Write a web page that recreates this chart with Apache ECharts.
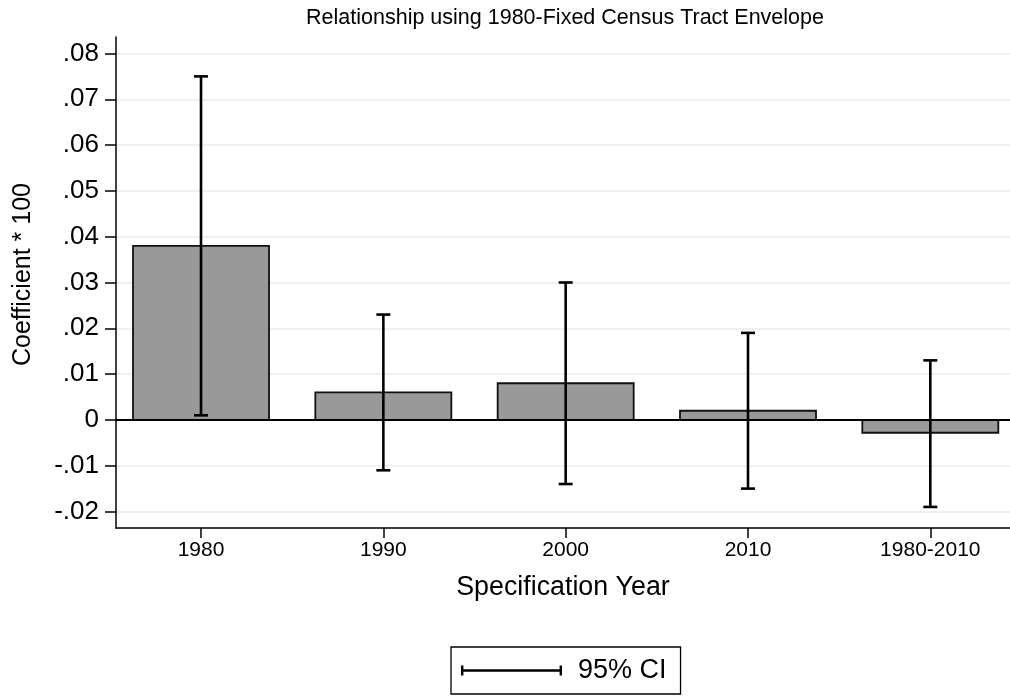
<!DOCTYPE html>
<html>
<head>
<meta charset="utf-8">
<script src="https://cdn.jsdelivr.net/npm/echarts@6/dist/echarts.min.js"></script>
<style>
  html, body { margin: 0; padding: 0; background: #fff; }
  #chart { width: 1010px; height: 696px; }
</style>
</head>
<body>
<div id="chart"></div>
<script>
// data
const categories = ['1980', '1990', '2000', '2010', '1980-2010']
const coef = [0.038, 0.006, 0.008, 0.002, -0.0028]
const ciLow = [0.001, -0.011, -0.014, -0.015, -0.019]
const ciHigh = [0.075, 0.023, 0.030, 0.019, 0.013]
const yTickValues = [-0.02, -0.01, 0, 0.01, 0.02, 0.03, 0.04, 0.05, 0.06, 0.07, 0.08]
const yTickLabels = ['-.02', '-.01', '0', '.01', '.02', '.03', '.04', '.05', '.06', '.07', '.08']

const xPos = categories.map((c, i) => i + 1)
const FONT = '"Liberation Sans", Arial, sans-serif'
const BAR_W = 0.746 // in category units

const chart = echarts.init(document.getElementById('chart'), null, { renderer: 'canvas' })

const option = {
  backgroundColor: '#fff',
  animation: false,
  textStyle: { fontFamily: FONT, color: '#000' },
  title: {
    text: 'Relationship using 1980-Fixed Census Tract Envelope',
    left: 565,
    top: 7,
    padding: 0,
    textAlign: 'center',
    textStyle: { fontFamily: FONT, fontSize: 21.5, fontWeight: 'normal', color: '#000' }
  },
  grid: { left: 116, right: 0, top: 37, bottom: 168 },
  xAxis: {
    type: 'value',
    min: 0.5337,
    max: 5.437,
    name: 'Specification Year',
    nameLocation: 'middle',
    nameGap: 46,
    nameTextStyle: { fontFamily: FONT, fontSize: 26.8, color: '#000' },
    axisLine: { onZero: false, lineStyle: { color: '#000', width: 1.5 } },
    axisTick: { customValues: xPos, length: 10, lineStyle: { color: '#000', width: 1.5 } },
    axisLabel: {
      customValues: xPos,
      margin: 12,
      fontSize: 21,
      color: '#000',
      fontFamily: FONT,
      formatter: v => categories[Math.round(v) - 1] || ''
    },
    splitLine: { show: false }
  },
  yAxis: {
    type: 'value',
    min: -0.0236,
    max: 0.0836,
    name: 'Coefficient * 100',
    nameLocation: 'middle',
    nameGap: 80,
    nameTextStyle: { fontFamily: FONT, fontSize: 25, color: '#000', padding: [0, 0, 0, 16] },
    axisLine: { show: true, onZero: false, lineStyle: { color: '#000', width: 1.5 } },
    axisTick: { customValues: yTickValues, length: 11, lineStyle: { color: '#000', width: 1.5 } },
    axisLabel: {
      customValues: yTickValues,
      margin: 17,
      fontSize: 26,
      color: '#000',
      fontFamily: FONT,
      formatter: v => {
        const i = yTickValues.findIndex(t => Math.abs(t - v) < 1e-9)
        return i >= 0 ? yTickLabels[i] : ''
      }
    },
    splitLine: { show: false }
  },
  legend: {
    data: [{
      name: '95% CI',
      icon: 'path://M0,0 h2.4 v10 h-2.4 Z M0,3.8 h101 v2.4 h-101 Z M98.6,0 h2.4 v10 h-2.4 Z'
    }],
    left: 451,
    top: 647,
    padding: [10, 14, 10, 10],
    borderColor: '#000',
    borderWidth: 1.3,
    itemWidth: 101,
    itemHeight: 10,
    selectedMode: false,
    textStyle: { fontFamily: FONT, fontSize: 27, color: '#000', padding: [0, 0, 0, 11] }
  },
  series: [
    {
      // grid lines
      type: 'line',
      name: 'grid',
      data: [],
      z: 0,
      silent: true,
      markLine: {
        z: 0,
        silent: true,
        symbol: ['none', 'none'],
        label: { show: false },
        lineStyle: { color: '#eaf2f3', width: 2, type: 'solid' },
        data: yTickValues.map(v => ({ yAxis: v }))
      }
    },
    {
      type: 'custom',
      name: 'coef',
      z: 2,
      data: xPos.map((x, i) => [x, coef[i]]),
      renderItem: (params, api) => {
        const x = api.value(0)
        const p0 = api.coord([x - BAR_W / 2, 0])
        const p1 = api.coord([x + BAR_W / 2, api.value(1)])
        return {
          type: 'rect',
          shape: {
            x: p0[0],
            y: Math.min(p0[1], p1[1]),
            width: p1[0] - p0[0],
            height: Math.abs(p1[1] - p0[1])
          },
          style: { fill: '#999999', stroke: '#111', lineWidth: 1.8 }
        }
      },
      markLine: {
        z: 3,
        silent: true,
        symbol: ['none', 'none'],
        label: { show: false },
        lineStyle: { color: '#000', width: 2, type: 'solid' },
        data: [{ yAxis: 0 }]
      }
    },
    {
      type: 'custom',
      name: '95% CI',
      z: 4,
      itemStyle: { color: '#000' },
      data: xPos.map((x, i) => [x, ciLow[i], ciHigh[i]]),
      renderItem: (params, api) => {
        const x = api.value(0)
        const lo = api.coord([x, api.value(1)])
        const hi = api.coord([x, api.value(2)])
        const cap = 7
        const st = { stroke: '#000', lineWidth: 2.6 }
        return {
          type: 'group',
          children: [
            { type: 'line', shape: { x1: lo[0], y1: lo[1], x2: hi[0], y2: hi[1] }, style: st },
            { type: 'line', shape: { x1: lo[0] - cap, y1: lo[1], x2: lo[0] + cap, y2: lo[1] }, style: st },
            { type: 'line', shape: { x1: hi[0] - cap, y1: hi[1], x2: hi[0] + cap, y2: hi[1] }, style: st }
          ]
        }
      }
    }
  ]
}

chart.setOption(option)
</script>
</body>
</html>
